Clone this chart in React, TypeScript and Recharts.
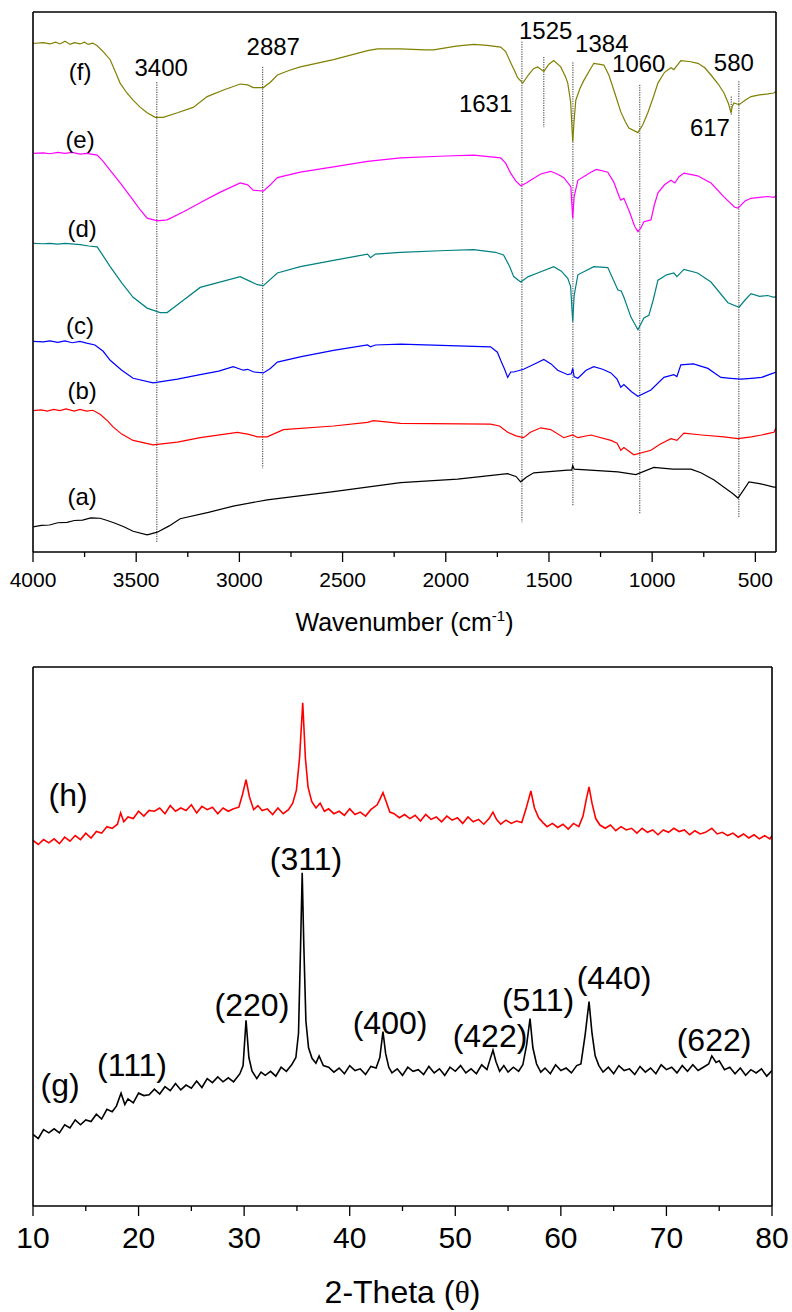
import { LineChart, Line, XAxis, YAxis, ReferenceLine, ReferenceDot } from "recharts"

const FONT = '"Liberation Sans", Arial, Helvetica, sans-serif'

// FTIR spectra: [wavenumber, transmittance (a.u., offset)]
const FTIR_F: [number, number][] = [
  [4000, 5.65], [3950, 5.66], [3918, 5.645], [3890, 5.665], [3869, 5.645], [3845, 5.675], [3820, 5.64], [3800, 5.66],
  [3772, 5.645], [3750, 5.665], [3733, 5.64], [3710, 5.655], [3689, 5.625], [3660, 5.56], [3626, 5.47], [3600, 5.33],
  [3578, 5.21], [3545, 5.1], [3515, 5.02], [3480, 4.94], [3447, 4.88], [3408, 4.83], [3369, 4.83], [3300, 4.88],
  [3224, 4.94], [3156, 5.06], [3080, 5.13], [2996, 5.2], [2960, 5.19], [2933, 5.16], [2884, 5.16], [2850, 5.22],
  [2816, 5.3], [2760, 5.35], [2705, 5.39], [2544, 5.47], [2379, 5.57], [2331, 5.59], [2219, 5.59], [2100, 5.58],
  [2059, 5.58], [1950, 5.62], [1865, 5.64], [1800, 5.63], [1734, 5.61], [1710, 5.56], [1686, 5.44], [1665, 5.34],
  [1652, 5.27], [1627, 5.21], [1600, 5.3], [1575, 5.37], [1555, 5.39], [1525, 5.34], [1500, 5.42], [1477, 5.46],
  [1443, 5.39], [1420, 5.28], [1409, 5.21], [1395, 5.0], [1385, 4.56], [1378, 4.8], [1370, 5.02], [1350, 5.15],
  [1331, 5.24], [1283, 5.43], [1260, 5.42], [1234, 5.41], [1210, 5.3], [1191, 5.17], [1170, 5.02], [1152, 4.89],
  [1130, 4.78], [1113, 4.71], [1069, 4.66], [1045, 4.75], [1021, 4.88], [995, 5.05], [972, 5.21], [940, 5.33],
  [909, 5.38], [895, 5.36], [861, 5.46], [820, 5.45], [778, 5.43], [745, 5.38], [715, 5.3], [680, 5.2],
  [652, 5.1], [630, 4.98], [618, 4.88], [612, 4.95], [604, 4.99], [579, 4.97], [550, 5.02], [521, 5.06],
  [480, 5.08], [440, 5.09], [410, 5.1], [400, 5.12],
]

const FTIR_E: [number, number][] = [
  [4000, 4.43], [3950, 4.435], [3918, 4.425], [3880, 4.44], [3845, 4.43], [3810, 4.44], [3772, 4.42], [3740, 4.43],
  [3689, 4.41], [3660, 4.34], [3626, 4.24], [3570, 4.08], [3515, 3.91], [3480, 3.8], [3447, 3.71], [3398, 3.68],
  [3350, 3.69], [3270, 3.78], [3190, 3.88], [3100, 3.99], [2996, 4.1], [2960, 4.08], [2933, 4.02], [2884, 4.01],
  [2850, 4.08], [2816, 4.16], [2705, 4.22], [2544, 4.28], [2379, 4.34], [2219, 4.38], [2000, 4.4], [1865, 4.41],
  [1734, 4.38], [1710, 4.32], [1686, 4.21], [1660, 4.12], [1637, 4.07], [1610, 4.1], [1589, 4.13], [1540, 4.2],
  [1492, 4.23], [1460, 4.2], [1428, 4.16], [1394, 4.06], [1385, 3.71], [1378, 3.95], [1360, 4.13], [1297, 4.22],
  [1270, 4.25], [1215, 4.22], [1186, 4.11], [1160, 3.95], [1152, 3.91], [1137, 3.93], [1110, 3.78], [1085, 3.62],
  [1069, 3.56], [1055, 3.6], [1040, 3.67], [1006, 3.69], [990, 3.85], [972, 3.99], [940, 4.08], [909, 4.13],
  [890, 4.1], [870, 4.17], [846, 4.21], [780, 4.18], [715, 4.1], [650, 3.94], [600, 3.83], [584, 3.82],
  [550, 3.9], [521, 3.93], [480, 3.94], [440, 3.95], [410, 3.94], [400, 3.96],
]

const FTIR_D: [number, number][] = [
  [4000, 3.43], [3950, 3.425], [3918, 3.43], [3880, 3.42], [3845, 3.43], [3800, 3.42], [3772, 3.415], [3730, 3.4],
  [3689, 3.39], [3660, 3.29], [3626, 3.17], [3570, 2.99], [3515, 2.83], [3447, 2.71], [3384, 2.66], [3350, 2.66],
  [3270, 2.8], [3190, 2.94], [2996, 3.06], [2950, 3.01], [2913, 2.97], [2884, 2.96], [2816, 3.1], [2705, 3.17],
  [2544, 3.24], [2379, 3.31], [2365, 3.27], [2341, 3.31], [2219, 3.33], [2000, 3.35], [1865, 3.36], [1760, 3.33],
  [1720, 3.3], [1690, 3.17], [1671, 3.06], [1637, 3.0], [1600, 3.06], [1555, 3.1], [1477, 3.17], [1440, 3.12],
  [1409, 3.04], [1395, 2.95], [1385, 2.56], [1378, 2.85], [1360, 3.08], [1283, 3.17], [1215, 3.16], [1166, 2.91],
  [1150, 2.9], [1137, 2.83], [1103, 2.61], [1069, 2.47], [1040, 2.6], [1016, 2.63], [995, 2.8], [972, 3.02],
  [930, 3.08], [895, 3.1], [880, 3.06], [846, 3.14], [780, 3.1], [715, 3.0], [633, 2.77], [579, 2.72],
  [550, 2.8], [521, 2.87], [480, 2.84], [440, 2.85], [410, 2.83], [400, 2.84],
]

const FTIR_C: [number, number][] = [
  [4000, 2.34], [3950, 2.335], [3918, 2.345], [3880, 2.33], [3845, 2.345], [3810, 2.325], [3772, 2.34], [3740, 2.32],
  [3700, 2.3], [3660, 2.23], [3626, 2.13], [3570, 2.02], [3515, 1.93], [3418, 1.88], [3300, 1.92], [3190, 1.97],
  [3100, 2.01], [3030, 2.06], [2981, 2.02], [2960, 2.03], [2930, 2.0], [2884, 1.99], [2850, 2.04], [2816, 2.11],
  [2700, 2.17], [2544, 2.24], [2379, 2.3], [2365, 2.28], [2341, 2.3], [2219, 2.31], [1943, 2.29], [1783, 2.28],
  [1750, 2.22], [1734, 2.13], [1715, 2.03], [1700, 1.94], [1685, 2.0], [1671, 2.0], [1623, 2.03], [1560, 2.1],
  [1525, 2.14], [1490, 2.09], [1458, 2.02], [1409, 1.97], [1392, 1.98], [1385, 2.04], [1378, 1.95], [1360, 1.93],
  [1320, 2.02], [1283, 2.06], [1240, 2.03], [1200, 1.99], [1170, 1.92], [1152, 1.83], [1137, 1.86], [1100, 1.78],
  [1069, 1.73], [1006, 1.8], [943, 1.94], [895, 1.97], [880, 1.95], [861, 2.08], [800, 2.09], [730, 2.04],
  [667, 1.94], [620, 1.93], [570, 1.92], [520, 1.93], [470, 1.94], [410, 1.99], [400, 2.0],
]

const FTIR_B: [number, number][] = [
  [4000, 1.57], [3960, 1.58], [3930, 1.565], [3900, 1.585], [3870, 1.57], [3840, 1.59], [3800, 1.565], [3772, 1.585],
  [3740, 1.565], [3710, 1.575], [3675, 1.53], [3640, 1.46], [3612, 1.39], [3570, 1.31], [3515, 1.24], [3418, 1.19],
  [3300, 1.22], [3190, 1.27], [3010, 1.33], [2960, 1.31], [2913, 1.28], [2865, 1.28], [2787, 1.36], [2544, 1.4],
  [2379, 1.44], [2350, 1.46], [2219, 1.43], [1783, 1.42], [1740, 1.4], [1700, 1.33], [1660, 1.29], [1623, 1.27],
  [1590, 1.33], [1540, 1.38], [1492, 1.36], [1428, 1.27], [1385, 1.3], [1360, 1.27], [1297, 1.3], [1200, 1.24],
  [1170, 1.21], [1152, 1.13], [1137, 1.16], [1089, 1.08], [1006, 1.13], [960, 1.2], [909, 1.26], [880, 1.24],
  [846, 1.32], [760, 1.3], [652, 1.28], [584, 1.26], [520, 1.28], [470, 1.3], [430, 1.32], [410, 1.33], [400, 1.38],
]

const FTIR_A: [number, number][] = [
  [4000, 0.28], [3960, 0.295], [3920, 0.3], [3880, 0.325], [3835, 0.33], [3800, 0.35], [3760, 0.355], [3720, 0.38],
  [3675, 0.375], [3640, 0.35], [3602, 0.32], [3560, 0.28], [3515, 0.23], [3447, 0.19], [3398, 0.22], [3340, 0.29],
  [3287, 0.37], [3150, 0.44], [3030, 0.51], [2865, 0.58], [2544, 0.67], [2219, 0.77], [1943, 0.81], [1700, 0.87],
  [1660, 0.84], [1637, 0.78], [1610, 0.83], [1574, 0.88], [1409, 0.91], [1390, 0.91], [1385, 0.96], [1378, 0.92],
  [1166, 0.89], [1079, 0.86], [992, 0.94], [900, 0.92], [812, 0.92], [764, 0.88], [700, 0.8], [652, 0.72],
  [610, 0.65], [584, 0.6], [560, 0.68], [531, 0.78], [480, 0.76], [410, 0.72], [400, 0.72],
]

const FTIR_SERIES: { name: string; color: string; points: [number, number][] }[] = [
  { name: "a", color: "#000000", points: FTIR_A },
  { name: "b", color: "#ff0000", points: FTIR_B },
  { name: "c", color: "#0000ff", points: FTIR_C },
  { name: "d", color: "#008080", points: FTIR_D },
  { name: "e", color: "#ff00ff", points: FTIR_E },
  { name: "f", color: "#808000", points: FTIR_F },
]

// dotted band markers: [wavenumber, top, bottom]
const FTIR_MARKERS: [number, number, number][] = [
  [3400, 5.22, 0.1], [2887, 5.39, 0.93], [1631, 5.67, 0.33], [1525, 5.5, 4.72],
  [1384, 5.44, 0.51], [1060, 5.19, 0.42], [617, 5.06, 4.86], [580, 5.23, 0.39],
]

const FTIR_LABELS: [string, number, number][] = [
  ["(f)", 3772, 5.34], ["(e)", 3772, 4.58], ["(d)", 3762, 3.6], ["(c)", 3772, 2.52], ["(b)", 3762, 1.8], ["(a)", 3762, 0.62],
  ["3400", 3379, 5.38], ["2887", 2836, 5.62], ["1631", 1807, 4.98], ["1525", 1516, 5.79],
  ["1384", 1244, 5.65], ["1060", 1065, 5.43], ["580", 604, 5.44], ["617", 720, 4.72],
]

const FTIR_TICKS = [500, 750, 1000, 1250, 1500, 1750, 2000, 2250, 2500, 2750, 3000, 3250, 3500, 3750, 4000]

// XRD patterns: [2-theta, intensity (a.u., offset)]
const XRD_H: [number, number][] = [
  [10, 4.18], [10.5, 4.13], [11, 4.19], [11.5, 4.15], [12, 4.2], [12.5, 4.14], [13, 4.22], [13.5, 4.17],
  [14, 4.24], [14.5, 4.19], [15, 4.27], [15.5, 4.21], [16, 4.29], [16.5, 4.27], [17, 4.35], [17.5, 4.33],
  [18, 4.38], [18.3, 4.52], [18.6, 4.41], [19, 4.47], [19.5, 4.45], [20, 4.54], [20.5, 4.48], [21, 4.55],
  [21.5, 4.54], [22, 4.58], [22.5, 4.51], [23, 4.61], [23.5, 4.54], [24, 4.58], [24.5, 4.55], [25, 4.62],
  [25.5, 4.52], [26, 4.6], [26.5, 4.56], [27, 4.59], [27.5, 4.51], [28, 4.58], [28.5, 4.54], [29, 4.57],
  [29.5, 4.59], [29.85, 4.75], [30.18, 4.93], [30.5, 4.72], [30.9, 4.56], [31.3, 4.61], [31.7, 4.55], [32.2, 4.57],
  [32.7, 4.5], [33.2, 4.58], [33.7, 4.51], [34.2, 4.56], [34.6, 4.64], [34.95, 4.8], [35.25, 5.2], [35.55, 5.88],
  [35.8, 5.2], [36.05, 4.84], [36.4, 4.66], [36.8, 4.58], [37.2, 4.64], [37.6, 4.54], [38, 4.57], [38.5, 4.51],
  [39, 4.54], [39.5, 4.49], [40, 4.57], [40.5, 4.5], [41, 4.53], [41.5, 4.48], [42, 4.56], [42.6, 4.62],
  [42.9, 4.7], [43.15, 4.77], [43.45, 4.66], [43.8, 4.53], [44.2, 4.51], [44.7, 4.46], [45.2, 4.5], [45.7, 4.45],
  [46.2, 4.49], [46.7, 4.42], [47.2, 4.5], [47.7, 4.44], [48.2, 4.47], [48.7, 4.41], [49.2, 4.48], [49.7, 4.43],
  [50.2, 4.46], [50.7, 4.39], [51.2, 4.47], [51.7, 4.41], [52.2, 4.44], [52.7, 4.38], [53.2, 4.45], [53.57, 4.53],
  [53.9, 4.44], [54.3, 4.38], [54.8, 4.43], [55.3, 4.39], [55.8, 4.42], [56.3, 4.4], [56.7, 4.57], [57.16, 4.79],
  [57.5, 4.58], [57.9, 4.46], [58.3, 4.4], [58.7, 4.35], [59.2, 4.39], [59.7, 4.34], [60.2, 4.38], [60.7, 4.32],
  [61.2, 4.39], [61.7, 4.35], [62.1, 4.48], [62.4, 4.68], [62.67, 4.84], [62.95, 4.64], [63.3, 4.45], [63.7, 4.37],
  [64.2, 4.33], [64.7, 4.37], [65.2, 4.3], [65.7, 4.35], [66.2, 4.31], [66.7, 4.33], [67.2, 4.27], [67.7, 4.33],
  [68.2, 4.28], [68.7, 4.31], [69.2, 4.25], [69.7, 4.31], [70.2, 4.28], [70.7, 4.33], [71.2, 4.29], [71.7, 4.31],
  [72.2, 4.25], [72.7, 4.3], [73.2, 4.26], [73.7, 4.28], [74.3, 4.33], [74.8, 4.26], [75.3, 4.28], [75.8, 4.24],
  [76.3, 4.27], [76.8, 4.22], [77.3, 4.26], [77.8, 4.21], [78.3, 4.25], [78.8, 4.2], [79.3, 4.24], [79.8, 4.2],
  [80, 4.24],
]

const XRD_G: [number, number][] = [
  [10, 0.55], [10.5, 0.5], [11, 0.61], [11.5, 0.57], [12, 0.62], [12.5, 0.57], [13, 0.67], [13.5, 0.63],
  [14, 0.73], [14.5, 0.67], [15, 0.73], [15.5, 0.71], [16, 0.8], [16.5, 0.74], [17, 0.86], [17.5, 0.83],
  [17.9, 0.9], [18.34, 1.06], [18.7, 0.92], [19, 0.99], [19.5, 0.94], [20, 1.06], [20.5, 1.03], [21, 1.04],
  [21.5, 1.11], [22, 1.05], [22.5, 1.14], [23, 1.09], [23.5, 1.18], [24, 1.1], [24.5, 1.16], [25, 1.12],
  [25.5, 1.21], [26, 1.13], [26.5, 1.24], [27, 1.19], [27.5, 1.26], [28, 1.2], [28.5, 1.25], [29, 1.2],
  [29.6, 1.3], [29.9, 1.4], [30.18, 1.96], [30.45, 1.5], [30.75, 1.33], [31.2, 1.24], [31.6, 1.32], [32, 1.28],
  [32.5, 1.33], [33, 1.27], [33.5, 1.38], [34, 1.33], [34.5, 1.41], [34.9, 1.5], [35.15, 1.8], [35.35, 2.9],
  [35.5, 3.78], [35.65, 2.9], [35.85, 1.95], [36.1, 1.62], [36.43, 1.49], [36.8, 1.43], [37.1, 1.52], [37.5, 1.4],
  [38, 1.38], [38.5, 1.32], [39, 1.37], [39.5, 1.3], [40, 1.4], [40.5, 1.34], [41, 1.36], [41.5, 1.29],
  [42, 1.39], [42.5, 1.37], [42.85, 1.5], [43.15, 1.82], [43.4, 1.55], [43.7, 1.38], [44, 1.31], [44.5, 1.36],
  [45, 1.28], [45.5, 1.38], [46, 1.33], [46.5, 1.35], [47, 1.29], [47.5, 1.39], [48, 1.31], [48.5, 1.36],
  [49, 1.28], [49.5, 1.38], [50, 1.33], [50.5, 1.4], [51, 1.31], [51.5, 1.36], [52, 1.3], [52.5, 1.41],
  [53, 1.35], [53.3, 1.48], [53.57, 1.59], [53.85, 1.45], [54.2, 1.33], [54.6, 1.4], [55, 1.32], [55.5, 1.38],
  [56, 1.33], [56.4, 1.41], [56.75, 1.65], [57.08, 1.98], [57.35, 1.62], [57.7, 1.42], [58.1, 1.32], [58.5, 1.37],
  [59, 1.3], [59.5, 1.41], [60, 1.34], [60.5, 1.37], [61, 1.31], [61.5, 1.4], [61.9, 1.42], [62.3, 1.78],
  [62.67, 2.19], [62.95, 1.8], [63.25, 1.52], [63.6, 1.4], [64, 1.32], [64.5, 1.38], [65, 1.3], [65.5, 1.4],
  [66, 1.34], [66.5, 1.36], [67, 1.29], [67.5, 1.39], [68, 1.32], [68.5, 1.37], [69, 1.3], [69.5, 1.41],
  [70, 1.35], [70.5, 1.38], [71, 1.31], [71.5, 1.4], [72, 1.33], [72.5, 1.41], [73, 1.34], [73.5, 1.38],
  [74, 1.42], [74.3, 1.52], [74.7, 1.44], [75, 1.46], [75.5, 1.35], [76, 1.38], [76.5, 1.3], [77, 1.37],
  [77.5, 1.28], [78, 1.35], [78.5, 1.31], [79, 1.36], [79.5, 1.27], [80, 1.34],
]

const XRD_LABELS: [string, number, number][] = [
  ["(h)", 13.32, 4.74], ["(g)", 12.56, 1.16], ["(111)", 19.38, 1.41], ["(220)", 30.74, 2.15],
  ["(311)", 35.86, 3.95], ["(400)", 43.82, 1.93], ["(422)", 53.29, 1.77], ["(511)", 57.84, 2.21],
  ["(440)", 65.04, 2.49], ["(622)", 74.51, 1.72],
]

const XRD_TICKS = [10, 15, 20, 25, 30, 35, 40, 45, 50, 55, 60, 65, 70, 75, 80]

const toPts = (arr: [number, number][]) => arr.map(([x, y]) => ({ x, y }))

const FRAME = { stroke: "#000", strokeWidth: 1.6 }

function AxisTick(props: any) {
  const { x, y, payload, major, fontSize, baseline } = props
  const v = payload.value
  const isMajor = Math.abs(v % major) < 1e-6
  const y0 = y - 10
  return (
    <g>
      <line x1={x} x2={x} y1={y0} y2={y0 + (isMajor ? 10 : 5)} stroke="#000" strokeWidth={1.3} />
      {isMajor && (
        <text x={x} y={y0 + baseline} textAnchor="middle" fontSize={fontSize} fill="#000">
          {v}
        </text>
      )}
    </g>
  )
}

function FtirTitle(props: any) {
  const { x, y, width } = props.viewBox
  return (
    <text x={x + width / 2} y={y + 79} textAnchor="middle" fontSize={25} fill="#000">
      Wavenumber (cm
      <tspan dy={-10} fontSize={15}>-1</tspan>
      <tspan dy={10}>)</tspan>
    </text>
  )
}

function XrdTitle(props: any) {
  const { x, y, width } = props.viewBox
  return (
    <text x={x + width / 2} y={y + 97} textAnchor="middle" fontSize={32} fill="#000">
      2-Theta (<tspan fontFamily='"Liberation Serif", "DejaVu Serif", serif'>θ</tspan>)
    </text>
  )
}

function FtirChart() {
  return (
    <LineChart width={792} height={640} margin={{ top: 12, right: 16, bottom: 0, left: 33 }}>
      <XAxis
        xAxisId="b" type="number" dataKey="x" domain={[400, 4000]} reversed allowDataOverflow
        ticks={FTIR_TICKS} interval={0} tickSize={10} tickMargin={0} tickLine={false}
        axisLine={FRAME} height={88}
        tick={<AxisTick major={500} fontSize={21} baseline={35} />}
        label={<FtirTitle />}
      />
      <XAxis
        xAxisId="t" orientation="top" mirror type="number" dataKey="x" domain={[400, 4000]} reversed allowDataOverflow
        ticks={FTIR_TICKS} interval={0} tick={false} tickSize={4} tickLine={{ stroke: "#000" }} axisLine={FRAME}
      />
      <YAxis
        yAxisId="l" mirror type="number" domain={[0, 6]} allowDataOverflow ticks={[1, 2, 3, 4, 5]}
        interval={0} tick={false} tickSize={4} tickLine={{ stroke: "#000" }} axisLine={FRAME}
      />
      <YAxis
        yAxisId="r" orientation="right" mirror type="number" domain={[0, 6]} allowDataOverflow ticks={[1, 2, 3, 4, 5]}
        interval={0} tick={false} tickSize={4} tickLine={{ stroke: "#000" }} axisLine={FRAME}
      />
      {FTIR_MARKERS.map(([wn, top, bottom]) => (
        <ReferenceLine
          key={wn} xAxisId="b" yAxisId="l"
          segment={[{ x: wn, y: top }, { x: wn, y: bottom }]}
          stroke="#333" strokeWidth={1} strokeDasharray="1.2 1.2"
        />
      ))}
      {FTIR_SERIES.map((s) => (
        <Line
          key={s.name} xAxisId="b" yAxisId="l" data={toPts(s.points)} dataKey="y" type="linear"
          stroke={s.color} strokeWidth={1.2} dot={false} activeDot={false} isAnimationActive={false}
        />
      ))}
      {FTIR_LABELS.map(([text, wn, v]) => (
        <ReferenceDot
          key={text} xAxisId="b" yAxisId="l" x={wn} y={v} r={0} stroke="none" fill="none"
          label={{ value: text, position: "center", fontSize: 24, fill: "#000" }}
        />
      ))}
    </LineChart>
  )
}

function XrdChart() {
  return (
    <LineChart width={792} height={672} margin={{ top: 27, right: 20, bottom: 0, left: 33 }}>
      <XAxis
        xAxisId="b" type="number" dataKey="x" domain={[10, 80]} allowDataOverflow
        ticks={XRD_TICKS} interval={0} tickSize={10} tickMargin={0} tickLine={false}
        axisLine={FRAME} height={106}
        tick={<AxisTick major={10} fontSize={30} baseline={42} />}
        label={<XrdTitle />}
      />
      <XAxis
        xAxisId="t" orientation="top" mirror type="number" dataKey="x" domain={[10, 80]} allowDataOverflow
        ticks={XRD_TICKS} interval={0} tick={false} tickSize={4} tickLine={{ stroke: "#000" }} axisLine={FRAME}
      />
      <YAxis
        yAxisId="l" mirror type="number" domain={[-0.333, 6.321]} allowDataOverflow ticks={[0, 1, 2, 3, 4, 5, 6]}
        interval={0} tick={false} tickSize={4} tickLine={{ stroke: "#000" }} axisLine={FRAME}
      />
      <YAxis
        yAxisId="r" orientation="right" mirror type="number" domain={[-0.333, 6.321]} allowDataOverflow
        ticks={[0, 1, 2, 3, 4, 5, 6]} interval={0} tick={false} tickSize={4} tickLine={{ stroke: "#000" }} axisLine={FRAME}
      />
      <Line
        xAxisId="b" yAxisId="l" data={toPts(XRD_H)} dataKey="y" type="linear"
        stroke="#ff0000" strokeWidth={1.6} dot={false} activeDot={false} isAnimationActive={false}
      />
      <Line
        xAxisId="b" yAxisId="l" data={toPts(XRD_G)} dataKey="y" type="linear"
        stroke="#000000" strokeWidth={1.6} dot={false} activeDot={false} isAnimationActive={false}
      />
      {XRD_LABELS.map(([text, t, v]) => (
        <ReferenceDot
          key={text} xAxisId="b" yAxisId="l" x={t} y={v} r={0} stroke="none" fill="none"
          label={{ value: text, position: "center", fontSize: 32, fill: "#000" }}
        />
      ))}
    </LineChart>
  )
}

export default function App() {
  return (
    <div style={{ position: "absolute", left: 0, top: 0, width: 792, height: 1312, background: "#fff", fontFamily: FONT }}>
      <FtirChart />
      <XrdChart />
    </div>
  )
}
